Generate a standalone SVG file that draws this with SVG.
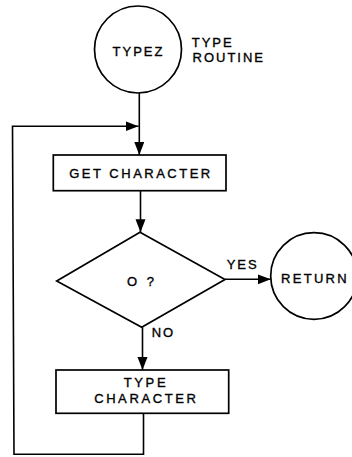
<svg xmlns="http://www.w3.org/2000/svg" width="352" height="457" viewBox="0 0 352 457">
<defs>
<style>
.shape{fill:none;stroke:#000;stroke-width:1.7}
.conn{fill:none;stroke:#000;stroke-width:1.6}
.t{font-family:"Liberation Sans",Arial,sans-serif;font-size:13px;fill:#000;stroke:#000;stroke-width:0.35;letter-spacing:2px}
.c{text-anchor:middle}
</style>
<marker id="arr" markerUnits="userSpaceOnUse" markerWidth="14" markerHeight="11" refX="13" refY="5" orient="auto">
<path d="M0,0 L13,5 L0,10 Z" fill="#000"/>
</marker>
</defs>
<rect width="352" height="457" fill="#fff"/>
<g id="connectors">
<line class="conn" x1="139.3" y1="93" x2="139.3" y2="155" marker-end="url(#arr)"/>
<polyline class="conn" points="143.5,413.3 143.5,454.3 14,454.3 12.5,126.3 138.5,126.3" marker-end="url(#arr)"/>
<line class="conn" x1="140.5" y1="190.7" x2="140.5" y2="232.3" marker-end="url(#arr)"/>
<line class="conn" x1="225" y1="279.3" x2="270.7" y2="279.3" marker-end="url(#arr)"/>
<line class="conn" x1="142.5" y1="327.3" x2="142.5" y2="370" marker-end="url(#arr)"/>
</g>
<g id="typez">
<circle class="shape" cx="138" cy="49.5" r="43.5"/>
<text class="t c" x="138.5" y="56">TYPEZ</text>
</g>
<g id="label-type-routine">
<text class="t" x="191.7" y="46.7">TYPE</text>
<text class="t" x="192.5" y="61.7">ROUTINE</text>
</g>
<g id="get-character">
<rect class="shape" x="53.3" y="155" width="172.7" height="35.7"/>
<text class="t c" x="141" y="178" style="letter-spacing:2.5px">GET CHARACTER</text>
</g>
<g id="decision">
<polygon class="shape" points="140,232.3 225,279.5 141.7,327.3 56.7,281"/>
<text class="t c" x="142" y="286" style="letter-spacing:3px">O ?</text>
</g>
<g id="labels">
<text class="t" x="226.7" y="269.3">YES</text>
<text class="t" x="151.7" y="337.3">NO</text>
</g>
<g id="return">
<circle class="shape" cx="314" cy="276" r="43.3"/>
<text class="t c" x="315" y="283.3" style="letter-spacing:2.3px">RETURN</text>
</g>
<g id="type-character">
<rect class="shape" x="56" y="370" width="172.7" height="43.3"/>
<text class="t c" x="146" y="387" style="letter-spacing:2.6px">TYPE</text>
<text class="t c" x="146.3" y="403.3" style="letter-spacing:2.6px">CHARACTER</text>
</g>
</svg>
